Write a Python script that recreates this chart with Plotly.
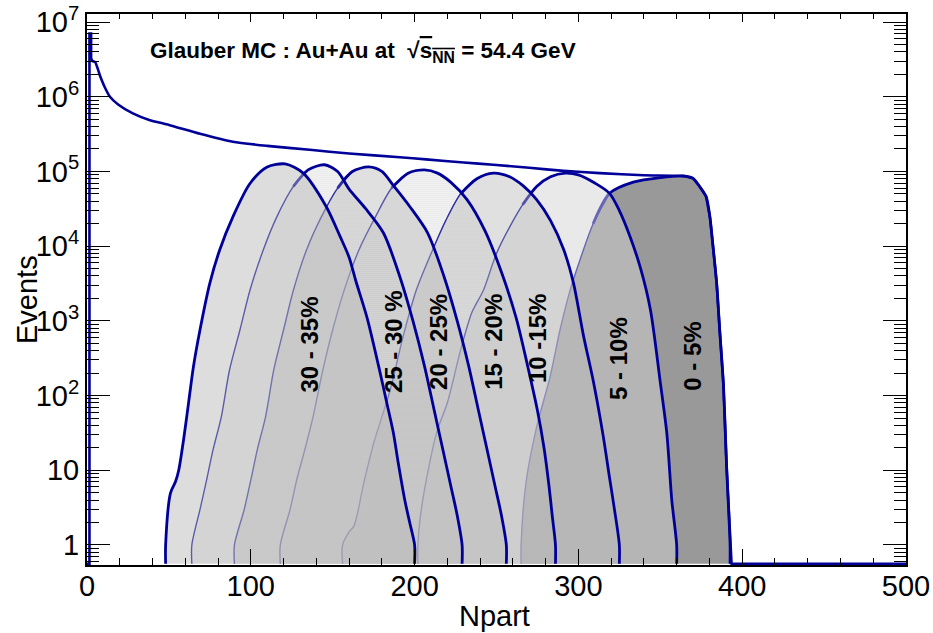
import numpy as np
import plotly.graph_objects as go

# ---------------------------------------------------------------------------
# Glauber MC, Au+Au at sqrt(s_NN) = 54.4 GeV : Npart distributions
# ---------------------------------------------------------------------------

# All events (minimum bias); 0 = empty bin
total_npart = [0, 1.5, 1.5, 2.5, 2.5, 3.5, 5, 8, 11, 14, 19, 28, 38, 50, 69, 89, 110, 136,
               160, 191, 207, 230, 248, 270, 291, 313, 340, 364, 370, 374, 378, 380.3,
               382.4, 384.4, 386.4, 388.5, 390.5, 392.6, 393.5, 500]
total_events = [0, 0, 7.0e6, 7.0e6, 3.2e6, 3.0e6, 2.9e6, 1.9e6, 1.32e6, 1.0e6, 7.9e5, 6.0e5,
                4.9e5, 4.2e5, 3.2e5, 2.5e5, 2.2e5, 1.95e5, 1.74e5, 1.55e5, 1.45e5, 1.32e5,
                1.23e5, 1.12e5, 1.02e5, 9.5e4, 8.9e4, 8.7e4, 8.1e4, 6.3e4, 4.6e4, 2.45e4,
                8900, 3200, 680, 145, 11, 1, 0, 0]

# Centrality classes, most central first
class_names = ["0 - 5%", "5 - 10%", "10 -15%", "15 - 20%", "20 - 25%", "25 - 30 %", "30 - 35%"]

npart_0_5 = [265, 268, 274.5, 282.7, 288.8, 295, 301, 309, 319, 333.5, 350, 364, 370, 374,
             378, 380.3, 382.4, 384.4, 386.4, 388.5, 390.5, 392.6]
events_0_5 = [1, 6.8, 38, 178, 760, 2600, 6600, 2.0e4, 5.1e4, 7.2e4, 8.3e4, 8.7e4, 8.1e4,
              6.3e4, 4.6e4, 2.45e4, 8900, 3200, 680, 145, 11, 1]

npart_5_10 = [202, 203.5, 209, 214, 220, 228, 235, 242, 250, 258, 266, 274.5, 283, 292, 300,
              310, 319, 325, 331.5, 338, 344, 350, 354, 357, 360]
events_5_10 = [1, 2.4, 12, 35, 80, 400, 1300, 2570, 8000, 1.8e4, 3.6e4, 6.3e4, 8.5e4, 9.5e4,
               9.0e4, 7.0e4, 5.1e4, 3.0e4, 1.35e4, 5000, 1400, 150, 31, 4, 1]

npart_10_15 = [156, 160, 163, 169, 175, 185, 193, 201, 211, 219, 228, 238, 248, 258, 266,
               274.5, 283, 291, 297, 303, 309, 315, 319, 322, 325]
events_10_15 = [1, 1.5, 1.8, 6.8, 23, 117, 620, 2570, 8900, 2.2e4, 5.0e4, 8.0e4, 9.5e4, 8.5e4,
                6.5e4, 4.2e4, 2.2e4, 9000, 3200, 650, 160, 30, 8, 3, 1]

npart_15_20 = [118, 124, 128, 133, 138, 144, 150, 157, 166, 176, 186, 196, 206, 214, 222,
               232, 243, 253, 262, 269, 275, 279, 282, 284, 286]
events_15_20 = [1, 3, 7.4, 19, 52, 220, 760, 2570, 8900, 2.45e4, 6.0e4, 9.5e4, 1.05e5, 9.5e4,
                7.2e4, 4.2e4, 1.6e4, 4500, 1100, 250, 63, 20, 6.3, 2.5, 1]

npart_20_25 = [90, 96, 100, 104, 109, 114, 120, 126, 134, 143, 153, 162, 172, 180, 187, 197,
               208, 218, 226, 233, 239, 244, 249, 253, 256]
events_20_25 = [1, 3, 7.4, 19, 52, 220, 760, 2570, 8900, 2.45e4, 6.0e4, 1.0e5, 1.15e5, 1.0e5,
                6.5e4, 3.4e4, 1.5e4, 3900, 1000, 250, 63, 20, 6.3, 2.5, 1]

npart_25_30 = [64, 69, 73, 77, 82, 87, 93.4, 99.5, 107.6, 115.8, 126, 135, 145, 153, 160, 170,
               181, 191, 199, 206, 212, 217, 222, 226, 229]
events_25_30 = [1, 3, 7.4, 19, 52, 220, 760, 2570, 8900, 2.45e4, 6.3e4, 1.05e5, 1.23e5, 1.0e5,
                5.8e4, 3.2e4, 1.5e4, 3900, 1000, 250, 63, 20, 6.3, 2.5, 1]

npart_30_35 = [48, 51, 54, 56, 59, 62, 65, 69, 75, 81, 89, 99.5, 110, 121, 132, 146, 154.5,
               160, 164, 171, 179, 183, 187, 190, 194, 197, 200]
events_30_35 = [1, 5, 7, 10, 26, 80, 245, 760, 3200, 8900, 2.45e4, 6.9e4, 1.15e5, 1.26e5,
                9.5e4, 3.4e4, 1.35e4, 7100, 3500, 1100, 200, 80, 32, 12.6, 4, 2, 1]

# Axis tick labels
y_ticks = [1, 10, 1e2, 1e3, 1e4, 1e5, 1e6, 1e7]
y_ticktext = ["1", "10", "10<sup>2</sup>", "10<sup>3</sup>", "10<sup>4</sup>",
              "10<sup>5</sup>", "10<sup>6</sup>", "10<sup>7</sup>"]

# ---------------------------------------------------------------------------
# Styling
# ---------------------------------------------------------------------------
LINE_BLUE = "#000099"
EMPTY_LEVEL = 0.56          # where empty bins sit on the log axis
Y_RANGE = [-0.268, 7.108]   # log10 limits of the y axis

class_data = [
    (npart_0_5, events_0_5), (npart_5_10, events_5_10), (npart_10_15, events_10_15),
    (npart_15_20, events_15_20), (npart_20_25, events_20_25),
    (npart_25_30, events_25_30), (npart_30_35, events_30_35),
]

CLEAR = "rgba(0,0,0,0)"
DOT_GREY = "#bababa"


def dots(solidity, fg=DOT_GREY):
    # all hatched classes share one dot lattice, so overlaps do not pile up
    return dict(fillcolor=CLEAR,
                fillpattern=dict(shape=".", size=2, solidity=solidity,
                                 fgcolor=fg, bgcolor=CLEAR))


fill_styles = [
    dict(fillcolor="#999999"),      # 0-5 %  : solid grey
    dots(0.9, "#d2d2d2"),           # 5-10 % : light dots
    dots(0.84),
    dots(0.55),
    dots(0.84),
    dots(0.55),
    dots(0.88),
]

# label anchor: (Npart, log10(events))
label_pos = [(370, 2.52), (324.8, 2.49), (274.7, 2.77), (248.5, 2.72),
             (215, 2.72), (187, 2.72), (136, 2.68)]


def closed(npart, events):
    """Histogram outline that drops to the empty-bin level at both ends."""
    x = [npart[0]] + list(npart) + [npart[-1]]
    y = [EMPTY_LEVEL] + list(events) + [EMPTY_LEVEL]
    return x, y


def log_at(npart, events, n):
    """log10 of a class curve at Npart n (-inf outside its range)."""
    if n < npart[0] or n > npart[-1]:
        return -np.inf
    return float(np.interp(n, npart, np.log10(events)))


fig = go.Figure()

for i, ((npart, events), fstyle) in enumerate(zip(class_data, fill_styles)):
    x, y = closed(npart, events)
    fig.add_trace(go.Scatter(x=x, y=y, mode="lines", fill="toself",
                             line=dict(width=0, shape="spline", smoothing=0.8),
                             hoverinfo="skip", **fstyle))
    # the rising edge hidden under the next (more peripheral) class is drawn thin
    split = 0
    if i + 1 < len(class_data):
        nxt = class_data[i + 1]
        for j, (n, e) in enumerate(zip(x, y)):
            if j > 0 and np.log10(e) >= log_at(nxt[0], nxt[1], n):
                split = j
                break
        fig.add_trace(go.Scatter(x=x[:split + 1], y=y[:split + 1], mode="lines",
                                 line=dict(color=LINE_BLUE, width=1.4, shape="spline",
                                           smoothing=0.8),
                                 hoverinfo="skip"))
        split = max(split - 1, 0)
    fig.add_trace(go.Scatter(x=x[split:], y=y[split:], mode="lines",
                             line=dict(color=LINE_BLUE, width=2.8, shape="spline",
                                       smoothing=0.8),
                             hoverinfo="skip"))

# minimum-bias distribution on top: first bins and the high-Npart edge as steps,
# the falling continuum in between smooth
total_y = [v if v > 0 else EMPTY_LEVEL for v in total_events]
i_mid = total_npart.index(370)
fig.add_trace(go.Scatter(x=total_npart[:5], y=total_y[:5], mode="lines",
                         line=dict(color=LINE_BLUE, width=2.6), hoverinfo="skip"))
fig.add_trace(go.Scatter(x=total_npart[4:i_mid + 1], y=total_y[4:i_mid + 1], mode="lines",
                         line=dict(color=LINE_BLUE, width=2.6, shape="spline",
                                   smoothing=0.6),
                         hoverinfo="skip"))
fig.add_trace(go.Scatter(x=total_npart[i_mid:], y=total_y[i_mid:], mode="lines",
                         line=dict(color=LINE_BLUE, width=2.6), hoverinfo="skip"))

# carries the top tick marks
fig.add_trace(go.Scatter(x=[], y=[], xaxis="x2", hoverinfo="skip"))

minor_y = [m * 10 ** k for k in range(-1, 7) for m in range(2, 10)]

fig.update_layout(
    width=933, height=633,
    margin=dict(l=87, r=27, t=14, b=68, autoexpand=False),
    paper_bgcolor="white", plot_bgcolor="white",
    showlegend=False,
    font=dict(family="Liberation Sans, Arial, Helvetica, sans-serif", color="black"),
    xaxis=dict(range=[0, 500], tickmode="linear", tick0=0, dtick=100, automargin=False,
               ticks="inside", ticklen=16, tickwidth=1, tickcolor="black",
               ticklabelstandoff=-6,
               minor=dict(ticks="inside", ticklen=7, dtick=20, tickwidth=1,
                          tickcolor="black", showgrid=False),
               showline=True, linewidth=2, linecolor="black", mirror=True,
               showgrid=False, zeroline=False, tickfont=dict(size=29)),
    xaxis2=dict(overlaying="x", side="top", range=[0, 500], tickmode="linear",
                tick0=0, dtick=100, ticks="inside", ticklen=8, tickwidth=1,
                tickcolor="black", automargin=False,
                minor=dict(ticks="inside", ticklen=5, dtick=20, tickwidth=1,
                           tickcolor="black", showgrid=False),
                showticklabels=False, showgrid=False, zeroline=False, showline=False),
    yaxis=dict(type="log", range=Y_RANGE, tickmode="array", tickvals=y_ticks,
               ticktext=y_ticktext, ticks="inside", ticklen=23, tickwidth=1,
               tickcolor="black", automargin=False,
               minor=dict(ticks="inside", ticklen=12, tickmode="array", tickvals=minor_y,
                          tickwidth=1, tickcolor="black", showgrid=False),
               showline=True, linewidth=2, linecolor="black", mirror="ticks",
               showgrid=False, zeroline=False, tickfont=dict(size=29)),
)

# plot text
annotations = [
    dict(text="<b>Glauber MC : Au+Au at &nbsp;√<span style='text-decoration:overline'>"
              "s<sub>NN</sub></span> = 54.4 GeV</b>",
         xref="paper", yref="paper", x=(148 - 87) / 819, y=(565 - 52) / 551,
         xanchor="left", yanchor="middle", showarrow=False, font=dict(size=22.5)),
    dict(text="Events", xref="paper", yref="paper", x=(27 - 87) / 819, y=(565 - 300) / 551,
         textangle=-90, xanchor="center", yanchor="middle", showarrow=False,
         font=dict(size=29)),
    dict(text="Npart", xref="paper", yref="paper", x=(494 - 87) / 819, y=(565 - 616) / 551,
         xanchor="center", yanchor="middle", showarrow=False, font=dict(size=29)),
]
for name, (lx, ly) in zip(class_names, label_pos):
    annotations.append(dict(text="<b>%s</b>" % name, xref="x", yref="y", x=lx, y=ly,
                            textangle=-90, xanchor="center", yanchor="middle",
                            showarrow=False, font=dict(size=24)))
fig.update_layout(annotations=annotations)

fig.write_html("out.html")
